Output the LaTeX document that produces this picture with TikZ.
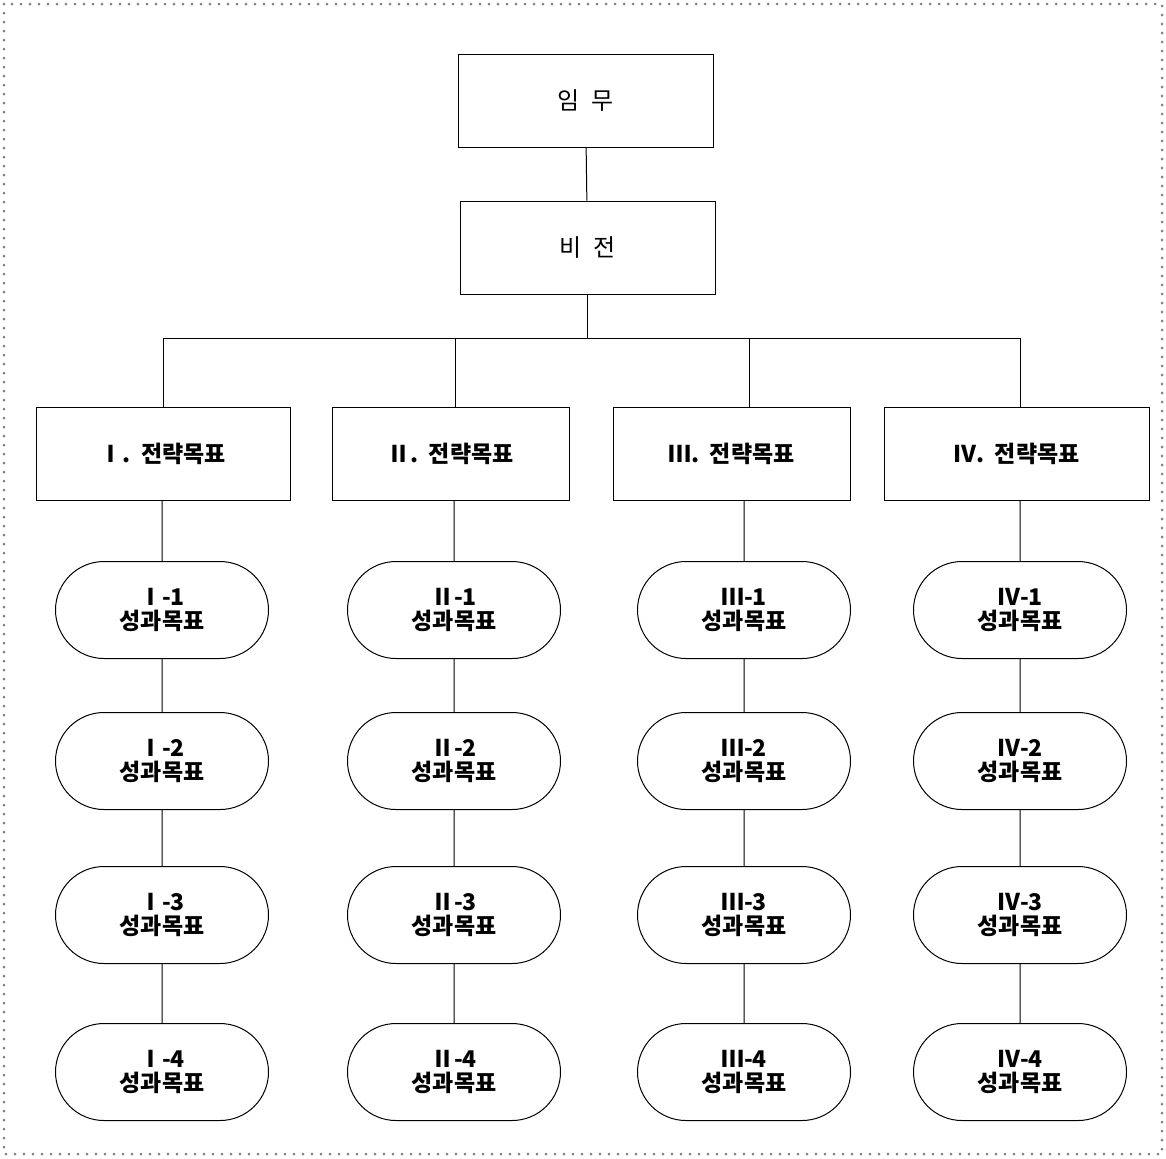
\documentclass[tikz,border=0pt]{standalone}
\usepackage{fontspec}
\newfontfamily\kofont{Noto Sans CJK KR}
\usetikzlibrary{shapes.misc}
\begin{document}
\begin{tikzpicture}[x=0.5pt,y=-0.5pt,
  box/.style={draw,line width=0.5pt,minimum height=46.5pt,inner sep=0pt,
    font=\kofont\fontsize{12}{13}\selectfont},
  goalbox/.style={box,font=\kofont\bfseries\fontsize{11.5}{12}\selectfont},
  pill/.style={draw,line width=0.5pt,rounded rectangle,minimum width=106.5pt,
    minimum height=48.5pt,inner sep=0pt,align=center,
    font=\kofont\bfseries\fontsize{11.5}{12}\selectfont},
  link/.style={line width=0.5pt}]
  \useasboundingbox (0,0) rectangle (1166,1158);
  \draw[gray,line width=1.5pt,line cap=round,dash pattern=on 0pt off 4.5pt]
    (4,4) rectangle (1162,1154);
  \node[box,minimum width=127.5pt] (mission) at (585.5,101) {임\enspace 무};
  \node[box,minimum width=127.5pt] (vision) at (587.5,247.5) {비\enspace 전};
  \coordinate (bus) at (587.5,338);
  \draw[link] (mission) -- (vision);
  \draw[link] (vision) -- (bus);
  \foreach \c/\bx/\tx/\x/\r/\w in {1/163/163/162/Ⅰ/127,2/450.5/455/454/Ⅱ/118.5,
      3/731.5/749/744/Ⅲ/118.5,4/1016.5/1020/1020/Ⅳ/132.5}{
    \node[goalbox,minimum width=\w pt] (s\c) at (\bx,454) {\r.\ \ 전략목표};
    \coordinate (t\c) at (\tx,338);
    \node[pill] (p\c-1) at (\x,610) {\r-1\\성과목표};
    \node[pill] (p\c-2) at (\x,761) {\r-2\\성과목표};
    \node[pill] (p\c-3) at (\x,915) {\r-3\\성과목표};
    \node[pill] (p\c-4) at (\x,1072) {\r-4\\성과목표};
    \draw[link] (t\c) -- (t\c |- s\c.north);
    \draw[link] (s\c.south -| p\c-1) -- (p\c-1);
    \draw[link] (p\c-1) -- (p\c-2);
    \draw[link] (p\c-2) -- (p\c-3);
    \draw[link] (p\c-3) -- (p\c-4);
  }
  \draw[link] (t1) -- (t4);
\end{tikzpicture}
\end{document}
